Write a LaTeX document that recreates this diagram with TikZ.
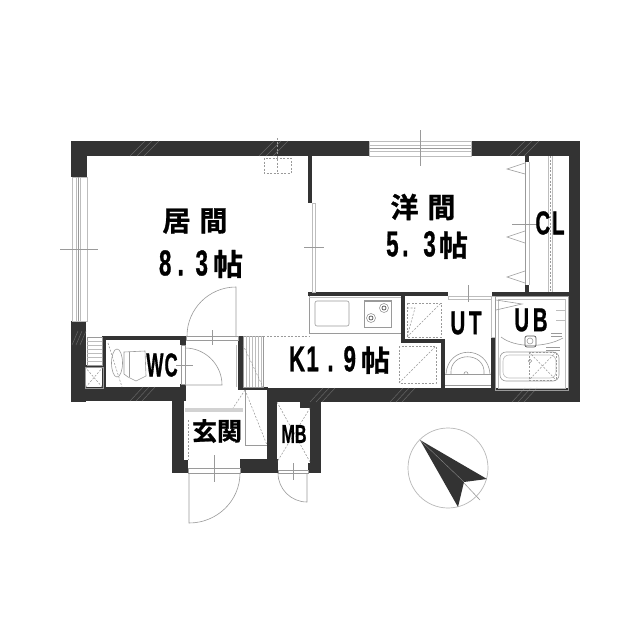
\documentclass[tikz,border=0pt]{standalone}
\usepackage{fontspec}
\setmainfont{Noto Sans CJK JP}
\newfontfamily\cjkb{Noto Sans CJK JP Bold}[FakeBold=1]
\newfontfamily\latinlab{Liberation Sans Bold}[FakeBold=1]
\definecolor{wallc}{HTML}{333333}
\definecolor{linec}{HTML}{9A9A9A}
\definecolor{lightl}{HTML}{BDBDBD}
\definecolor{darkl}{HTML}{555555}
\tikzset{
  wall/.style={fill=wallc,draw=none},
  thin line/.style={draw=linec,line width=0.6pt},
  faint line/.style={draw=lightl,line width=0.6pt},
  dark line/.style={draw=darkl,line width=0.7pt},
  dash line/.style={draw=linec,line width=0.55pt,dash pattern=on 2pt off 1.5pt},
  hatch line/.style={draw=white!25!wallc,line width=0.5pt},
  roomlabel/.style={inner sep=0pt,text=black}
}
\newcommand{\lat}[3]{\scalebox{#1}[1]{\latinlab\fontsize{#2}{#2}\selectfont #3}}
\newcommand{\kan}[2]{{\cjkb\fontsize{#1}{#1}\selectfont #2}}
\begin{document}
\begin{tikzpicture}[x=1pt,y=-1pt]
\useasboundingbox (0,0) rectangle (640,640);
\fill[white] (0,0) rectangle (640,640);
% --- outer walls
\fill[wall] (71,141) rectangle (369,156);
\fill[wall] (471,141) rectangle (580,156);
\fill[wall] (71,141) rectangle (87,177);
\fill[wall] (71,321) rectangle (86,402);
\fill[wall] (569,141) rectangle (580,402);
\fill[wall] (71,387) rectangle (185,401);
\fill[wall] (268,388) rectangle (580,402);
\fill[wall] (238,387) rectangle (268,390);
% --- WC walls
\fill[wall] (102,336) rectangle (186,340);
\fill[wall] (102,336) rectangle (106,388);
\fill[wall] (85,365) rectangle (102,367);
\fill[wall] (180,340) rectangle (186,345);
\fill[wall] (180,384) rectangle (186,401);
% --- entrance and MB
\fill[wall] (172,392) rectangle (184,473);
\fill[wall] (172,460) rectangle (188,473);
\fill[wall] (240,459) rectangle (278,473);
\fill[wall] (267,388) rectangle (277,473);
\fill[wall] (300,400) rectangle (321,408);
\fill[wall] (310,400) rectangle (321,473);
\fill[wall] (308,463) rectangle (321,473);
% --- inner partitions
\fill[wall] (238,336) rectangle (243,390);
\fill[wall] (308,156) rectangle (312,203);
\fill[wall] (308,292) rectangle (448,296);
\fill[wall] (492,292) rectangle (569,296);
\fill[wall] (525,156) rectangle (529,162);
\fill[wall] (525,285) rectangle (529,292);
\fill[wall] (401,296) rectangle (405,343);
\fill[wall] (401,339) rectangle (445,343);
\fill[wall] (441,339) rectangle (445,388);
\fill[wall] (491,337) rectangle (495,388);
% --- hatch marks on walls
\foreach \a in {130,137,144,259,266,273,510,517,524}{\draw[hatch line] (\a,156) -- (\a+15,141);}
\foreach \a in {72,76,80}{\draw[hatch line] (\a,345) -- (\a+6,331);}
\foreach \a in {130,136,142}{\draw[hatch line] (\a,401) -- (\a+13,387);}
\foreach \a in {310,316,322,390,396,402,512,518,524}{\draw[hatch line] (\a,402) -- (\a+13,388);}
% --- left window
\draw[faint line] (72,177) rectangle (87,321);
\draw[faint line] (76,177) -- (76,321) (80,177) -- (80,321);
\draw[thin line] (78,177) -- (78,321);
\draw[thin line] (60,249) -- (98,249);
% --- top window
\draw[faint line] (369,141) rectangle (471,156);
\draw[faint line] (369,145) -- (471,145) (369,151) -- (471,151);
\draw[thin line] (369,148) -- (471,148);
\draw[thin line] (420,130) -- (420,166);
% --- sliding door between rooms
\draw[faint line] (312,203) rectangle (315,292);
\draw[thin line] (304,247) -- (324,247);
% --- ventilation box
\draw[dash line] (264,158) rectangle (291,173);
\draw[dash line] (277,138) -- (277,173);
% --- closet
\draw[thin line] (525,162) -- (525,285);
\draw[faint line] (529,162) -- (529,285);
\draw[faint line] (548,156) -- (548,292) (552,156) -- (552,292);
\draw[dash line] (550,156) -- (550,292);
\draw[thin line] (512,224) -- (538,224);
\draw[thin line] (525,163) -- (507,169) -- (525,174);
\draw[thin line] (525,231) -- (507,237) -- (525,243);
\draw[thin line] (525,271) -- (507,277) -- (525,283);
% --- living room door
\draw[thin line] (186,336) rectangle (238,340);
\draw[thin line] (236,337) -- (236,287) .. controls (209,287) and (187,309) .. (187,336);
\draw[thin line] (212,330) -- (212,345);
% --- WC door
\draw[thin line] (181,345) rectangle (185,384);
\draw[thin line] (185,348) .. controls (205.4,348) and (222,364.6) .. (222,385) -- (185,385);
\draw[thin line] (176,365) -- (193,365);
\draw[faint line] (236,345) -- (236,387);
% --- small hatch and shaft
\draw[thin line] (87,337) rectangle (102,365);
\foreach \a in {341,345,349,353,357,361}{\draw[faint line] (87,\a) -- (102,\a);}
\draw[thin line] (85,367) rectangle (103,388);
\draw[dash line] (85,367) -- (103,388) (103,367) -- (85,388);
% --- toilet
\draw[thin line] (117,363) ellipse[x radius=5.5,y radius=14];
\draw[thin line] (124,352) -- (145,351) -- (146,376) -- (136,381) -- (128,377) -- (124,374) -- cycle;
\draw[thin line] (129,352) -- (129,377);
\draw[dash line] (108,343) -- (122,387);
% --- kitchen step
\draw[thin line] (243,336) rectangle (263,387);
\foreach \a in {246,249,252,255,258,261}{\draw[faint line] (\a,336) -- (\a,387);}
\draw[dash line] (243,345) -- (263,387);
\draw[dash line] (263,336) -- (309,336);
% --- counter
\draw[thin line] (309,296) -- (309,333) -- (401,333);
\draw[faint line] (309,297) -- (401,297);
\draw[thin line,rounded corners=2pt] (315,301) rectangle (349,326);
\draw[thin line] (364,300) rectangle (391,327);
\draw[line width=1.2pt,draw=linec] (364,301) -- (391,301);
\foreach \a/\b in {384/308,371/318}{
  \draw[thin line] (\a,\b) circle[radius=4.5];
  \draw[dark line] (\a,\b) circle[radius=2];}
% --- dashed boxes
\draw[dash line] (407,303) rectangle (441,337);
\draw[dash line] (407,337) -- (441,303);
\draw[dash line] (407,308) -- (415,308) -- (407,337);
\draw[dash line] (399,346) rectangle (436,383);
\draw[dash line] (399,383) -- (436,346);
% --- UT door and basin
\draw[faint line] (448,296) rectangle (491,299);
\draw[thin line] (468,285) -- (468,302);
\draw[faint line] (491,296) rectangle (495,337);
\draw[thin line] (445,374) -- (491,374);
\draw[thin line] (445,385) -- (491,385);
\draw[thin line] (446,374) .. controls (448,345) and (488,345) .. (490,374);
\draw[thin line] (451,374) .. controls (449,351) and (486,351) .. (484,374);
\draw[thin line] (464,374) .. controls (464,371) and (468,371) .. (468,374);
% --- UB
\draw[thin line] (495,296) rectangle (568,390);
\draw[faint line] (498,299) rectangle (565,388);
\draw[thin line] (496,300) -- (522,304) -- (496,310);
\draw[thin line] (501,337) .. controls (515,348) and (545,348) .. (563,338);
\draw[thin line,rounded corners=6pt] (500,352) rectangle (559,381);
\draw[faint line,rounded corners=6pt] (503,355) rectangle (556,378);
\draw[dash line] (529,352) rectangle (556,380);
\draw[dash line] (529,352) -- (556,380) (556,352) -- (529,380);
\draw[thin line] (530,361) circle[radius=1.8];
\draw[dark line,rounded corners=2pt] (525,336) rectangle (536,347);
\draw[thin line] (530,341) circle[radius=3];
\draw[thin line] (551,333) -- (562,333) (551,336) -- (562,336);
\draw[thin line] (546,350) -- (560,350) (546,347) -- (560,347);
\draw[faint line] (556,310) -- (565,310) (556,320) -- (565,320);
% --- entrance
\fill[linec!45] (185,408) rectangle (243,412);
\draw[thin line] (245,390) -- (245,445) -- (267,445);
\draw[dash line] (245,390) -- (267,445);
\draw[dash line] (245,390) -- (233,408);
\draw[dash line] (188,420) -- (188,460);
\draw[thin line] (188,468) rectangle (240,473);
\draw[dash line] (188,468) -- (240,468);
\draw[thin line] (214,455) -- (214,482);
\draw[thin line] (189,473) -- (189,523) .. controls (217,523) and (240,501) .. (240,473);
% --- MB
\draw[dash line] (277,402) -- (310,462) (310,408) -- (277,462);
\draw[thin line] (278,470) rectangle (308,473);
\draw[thin line] (293,463) -- (293,480);
\draw[thin line] (307,473) -- (307,502) .. controls (291,502) and (278,489) .. (278,473);
% --- north mark
\node[draw=linec!70,line width=0.7pt,circle,minimum size=80pt,inner sep=0pt] (compass) at (448,468) {};
\draw[thin line] (464,483) -- (480,500);
\fill[wallc] (420,440) -- (487,479) -- (464,482) -- (458,507) -- cycle;
\draw[draw=darkl!70,line width=0.4pt] (420,440) -- (464,482);
% --- labels
\node[roomlabel] (r1) at (195,221) {\kan{28}{居\hspace{9pt}間}};
\node[roomlabel] (r1b) at (201,264) {\lat{.62}{36}{8\hspace{10pt}.\hspace{19pt}3}\hspace{5pt}\kan{30}{帖}};
\node[roomlabel] (r2) at (423,207) {\kan{28}{洋\hspace{9pt}間}};
\node[roomlabel] (r2b) at (427,245) {\lat{.62}{36}{5\hspace{6pt}.\hspace{24pt}3}\hspace{3pt}\kan{29}{帖}};
\node[roomlabel] (cl) at (550,223) {\lat{.62}{33}{C\hspace{3pt}L}};
\node[roomlabel] (ut) at (466,323) {\lat{.62}{33}{U\hspace{6pt}T}};
\node[roomlabel] (ub) at (531,320) {\lat{.62}{33}{U\hspace{6pt}B}};
\node[roomlabel] (wc) at (162,365) {\lat{.55}{33}{W\hspace{2pt}C}};
\node[roomlabel] (k) at (339.5,360) {\lat{.62}{36}{K\hspace{2pt}1\hspace{14pt}.\hspace{16pt}9}\hspace{5pt}\kan{29}{帖}};
\node[roomlabel] (g) at (217,431) {\kan{25}{玄関}};
\node[roomlabel] (mb) at (294,434) {\lat{.62}{26}{MB}};
\end{tikzpicture}
\end{document}
